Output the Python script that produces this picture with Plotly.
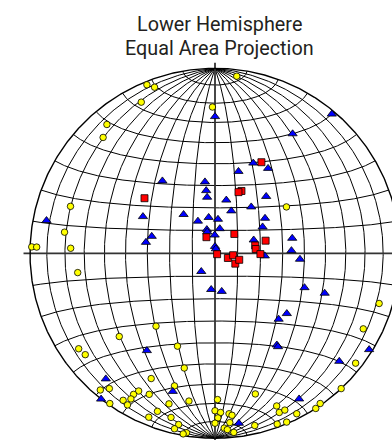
import numpy as np
import plotly.graph_objects as go

# ---- data: lineation orientations (trend, plunge in degrees) ----
yellow_trend = [7, 338, 340, 334, 359, 320, 316, 288, 57, 278, 272, 272, 272, 262, 107, 219, 117, 229, 202, 235,
                232, 128, 195, 207, 197, 220, 218, 209, 210, 205, 212, 210, 210, 215, 197, 190, 179, 200, 202, 195,
                180, 178, 179, 175, 174, 175, 180, 192, 193, 189, 190, 177, 176, 174, 137, 164, 158, 158, 156, 153,
                145, 147, 157, 160, 167]
yellow_plunge = [4, 2, 5, 10, 22, 10, 14, 19, 52, 19, 1, 4, 23, 26, 8, 48, 11, 32, 45, 11,
                 12, 4, 36, 25, 26, 4, 8, 16, 13, 17, 7, 10, 6, 1, 16, 20, 22, 10, 5, 9,
                 16, 15, 12, 14, 13, 9, 9, 6, 3, 2, 1, 6, 5, 3, 0, 22, 12, 8, 8, 3,
                 1, 0, 1, 2, 5]
blue_trend = [0, 40, 33, 23, 32, 16, 324, 352, 352, 352, 12, 42, 38, 21, 297, 321, 332, 350, 5, 55, 281, 341,
              340, 11, 61, 359, 285, 279, 79, 71, 0, 11, 88, 93, 94, 217, 186, 170, 111, 110, 130, 136, 146, 146,
              215, 122, 131, 221, 197, 218, 150, 172]
blue_plunge = [27, 2, 24, 46, 45, 52, 50, 58, 62, 65, 66, 56, 64, 70, 54, 68, 74, 74, 75, 63, 8, 79,
               80, 79, 66, 82, 61, 59, 55, 72, 87, 88, 56, 68, 52, 80, 74, 73, 47, 37, 48, 49, 40, 39,
               36, 2, 12, 11, 23, 0, 10, 8]
red_trend = [27, 23, 21, 308, 332, 45, 76, 79, 84, 113, 91, 110, 96, 117, 105]
red_plunge = [44, 60, 61, 50, 82, 78, 67, 72, 72, 89, 70, 84, 82, 80, 79]

title_lines = ["Lower Hemisphere", "Equal Area Projection"]
GRID_STEP = 10


def project(trend, plunge):
    """Lower-hemisphere equal-area (Schmidt) projection, unit primitive circle."""
    t = np.radians(np.asarray(trend, float))
    p = np.radians(np.asarray(plunge, float))
    r = np.sqrt(2) * np.sin((np.pi / 2 - p) / 2)
    return r * np.sin(t), r * np.cos(t)


def proj_vec(x, y, z):
    f = 1.0 / np.sqrt(1.0 + z)
    return x * f, y * f


# ---- Schmidt net grid ----
gx, gy = [], []
tt = np.linspace(0, np.pi, 361)
for d in range(GRID_STEP, 90, GRID_STEP):
    dr = np.radians(d)
    for s in (1, -1):
        x = np.sin(tt) * s * np.cos(dr)
        y = np.cos(tt)
        z = np.sin(tt) * np.sin(dr)
        X, Y = proj_vec(x, y, z)
        gx += list(X) + [None]
        gy += list(Y) + [None]
for a in range(GRID_STEP, 180, GRID_STEP):
    if a == 90:
        continue
    ar = np.radians(a)
    x = np.sin(ar) * np.cos(tt)
    y = np.full_like(tt, np.cos(ar))
    z = np.sin(ar) * np.sin(tt)
    X, Y = proj_vec(x, y, z)
    gx += list(X) + [None]
    gy += list(Y) + [None]

phi = np.linspace(0, 2 * np.pi, 721)

fig = go.Figure()
fig.add_trace(go.Scatter(x=gx, y=gy, mode="lines", line=dict(color="#000000", width=1.0),
                         hoverinfo="skip", showlegend=False))
fig.add_trace(go.Scatter(x=[0, 0, None, -1.035, 1.035], y=[-1.03, 1.03, None, 0, 0], mode="lines",
                         line=dict(color="#333333", width=1.8), hoverinfo="skip", showlegend=False))
fig.add_trace(go.Scatter(x=np.cos(phi), y=np.sin(phi), mode="lines",
                         line=dict(color="#000000", width=1.4), hoverinfo="skip", showlegend=False))

for tr, pl, sym, col, size in ((yellow_trend, yellow_plunge, "circle", "#ffff00", 6.5),
                               (blue_trend, blue_plunge, "triangle-up", "#0000ff", 8),
                               (red_trend, red_plunge, "square", "#ff0000", 7)):
    X, Y = project(tr, pl)
    fig.add_trace(go.Scatter(x=X, y=Y, mode="markers", showlegend=False, hoverinfo="skip",
                             marker=dict(symbol=sym, color=col, size=size,
                                         line=dict(color="#000000", width=0.8)),
                             cliponaxis=True))

W, H = 392, 440
CXP, CYP, RP = 215.0, 253.3, 185.0
fig.update_xaxes(range=[(0 - CXP) / RP, (W - CXP) / RP], visible=False, fixedrange=True)
fig.update_yaxes(range=[(CYP - H) / RP, CYP / RP], visible=False, fixedrange=True)

for txt, yc in zip(title_lines, (25.0, 48.3)):
    fig.add_annotation(text=txt, xref="paper", yref="paper", x=219.5 / W, y=1 - yc / H,
                       xanchor="center", yanchor="middle", showarrow=False,
                       font=dict(family="Roboto", size=19.8, color="#231f20"))

fig.update_layout(width=W, height=H, autosize=False, margin=dict(l=0, r=0, t=0, b=0, pad=0),
                  paper_bgcolor="white", plot_bgcolor="white", hovermode=False)
fig.write_html("out.html", config={"displayModeBar": False},
               post_script="document.body.style.margin='0';document.body.style.padding='0';")
